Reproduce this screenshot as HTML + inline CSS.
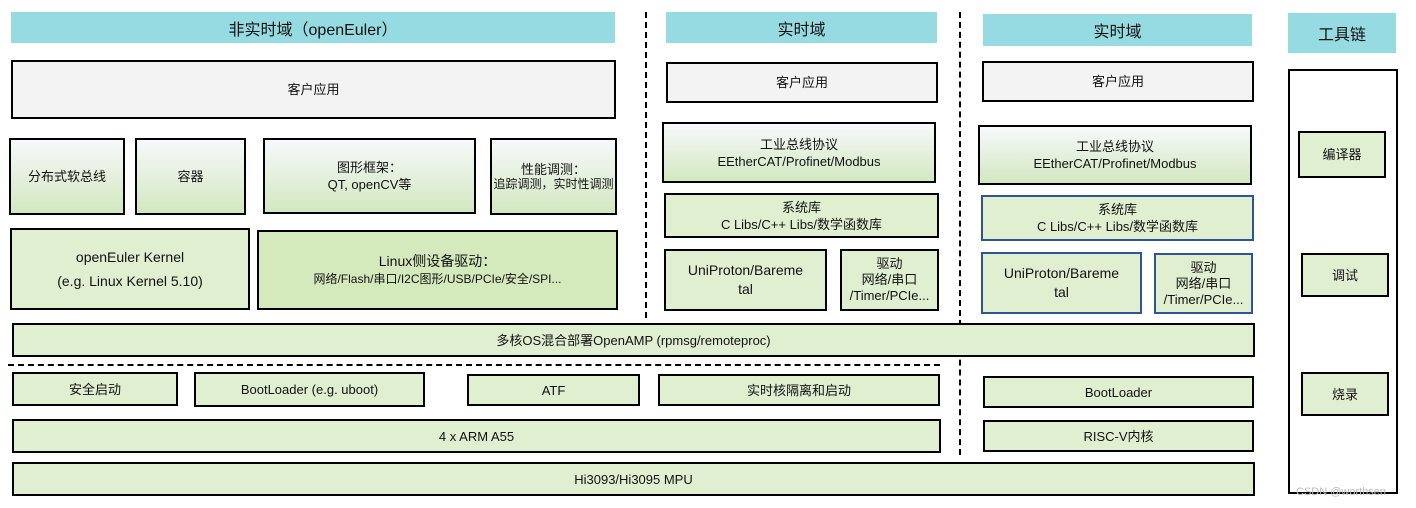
<!DOCTYPE html>
<html><head><meta charset="utf-8"><style>
body{margin:0;width:1416px;height:508px;background:#fff;position:relative;overflow:hidden;font-family:"Liberation Sans","Noto Sans CJK SC",sans-serif;color:#111}
.b{position:absolute;box-sizing:border-box;border:2px solid #000;display:flex;flex-direction:column;align-items:center;justify-content:center;text-align:center;font-size:13px;line-height:17px}
.h{position:absolute;background:#96dbe2;display:flex;align-items:center;justify-content:center;font-size:16px}
.w{background:#f3f3f3}
.g{background:linear-gradient(#f7f9fb,#d2e8c0)}
.l{background:#dfefd0}
.m{background:#d5eabc}
.bl{border-color:#2f5597}
.vd{position:absolute;width:0;border-left:2px dashed #000}
</style></head><body>
<div class="h" style="left:11px;top:12px;width:604px;height:31px">非实时域（openEuler）</div>
<div class="h" style="left:666px;top:12px;width:271px;height:31px">实时域</div>
<div class="h" style="left:983px;top:14px;width:269px;height:32px">实时域</div>
<div class="h" style="left:1288px;top:13px;width:108px;height:40px">工具链</div>

<div class="vd" style="left:645px;top:12px;height:306px"></div>
<div class="vd" style="left:959px;top:12px;height:443px"></div>
<div style="position:absolute;left:8px;top:364px;width:932px;border-top:2px dashed #000"></div>

<div class="b w" style="left:11px;top:60px;width:605px;height:59px">客户应用</div>
<div class="b w" style="left:666px;top:62px;width:272px;height:41px">客户应用</div>
<div class="b w" style="left:982px;top:61px;width:272px;height:41px">客户应用</div>

<div class="b g" style="left:9px;top:138px;width:116px;height:77px;padding:0 10px">分布式软总线</div>
<div class="b g" style="left:135px;top:138px;width:111px;height:77px">容器</div>
<div class="b g" style="left:263px;top:138px;width:213px;height:76px">图形框架：<br>QT, openCV等</div>
<div class="b g" style="left:490px;top:138px;width:127px;height:77px;font-size:12px;line-height:15px"><span style="font-size:13px">性能调测：</span>追踪调测，实时性调测</div>

<div class="b l" style="left:10px;top:228px;width:240px;height:82px;font-size:14px;line-height:24px">openEuler Kernel<br>(e.g. Linux Kernel 5.10)</div>
<div class="b m" style="left:257px;top:230px;width:361px;height:80px;font-size:14px;line-height:18px">Linux侧设备驱动：<br><span style="font-size:12px">网络/Flash/串口/I2C图形/USB/PCIe/安全/SPI...</span></div>

<div class="b g" style="left:662px;top:122px;width:274px;height:61px">工业总线协议<br>EEtherCAT/Profinet/Modbus</div>
<div class="b g" style="left:978px;top:125px;width:274px;height:60px">工业总线协议<br>EEtherCAT/Profinet/Modbus</div>
<div class="b l" style="left:664px;top:193px;width:275px;height:45px">系统库<br>C Libs/C++ Libs/数学函数库</div>
<div class="b l bl" style="left:981px;top:195px;width:273px;height:46px">系统库<br>C Libs/C++ Libs/数学函数库</div>
<div class="b l" style="left:664px;top:249px;width:163px;height:62px;font-size:14px;line-height:19px">UniProton/Bareme<br>tal</div>
<div class="b l" style="left:840px;top:249px;width:99px;height:62px;line-height:16px">驱动<br>网络/串口<br>/Timer/PCIe...</div>
<div class="b l bl" style="left:981px;top:252px;width:161px;height:62px;font-size:14px;line-height:19px">UniProton/Bareme<br>tal</div>
<div class="b l bl" style="left:1154px;top:253px;width:99px;height:61px;line-height:16px">驱动<br>网络/串口<br>/Timer/PCIe...</div>

<div class="b l" style="left:12px;top:323px;width:1243px;height:34px">多核OS混合部署OpenAMP (rpmsg/remoteproc)</div>
<div class="b l" style="left:12px;top:372px;width:166px;height:34px">安全启动</div>
<div class="b l" style="left:194px;top:372px;width:231px;height:35px">BootLoader (e.g. uboot)</div>
<div class="b l" style="left:467px;top:374px;width:173px;height:32px">ATF</div>
<div class="b l" style="left:658px;top:374px;width:282px;height:32px">实时核隔离和启动</div>
<div class="b l" style="left:983px;top:376px;width:271px;height:32px">BootLoader</div>
<div class="b l" style="left:12px;top:419px;width:929px;height:34px">4 x ARM A55</div>
<div class="b l" style="left:983px;top:420px;width:271px;height:32px">RISC-V内核</div>
<div class="b l" style="left:12px;top:462px;width:1243px;height:34px">Hi3093/Hi3095 MPU</div>

<div class="b" style="left:1288px;top:69px;width:110px;height:425px;background:#fff"></div>
<div class="b l" style="left:1298px;top:131px;width:88px;height:47px">编译器</div>
<div class="b l" style="left:1301px;top:253px;width:88px;height:44px">调试</div>
<div class="b l" style="left:1301px;top:372px;width:88px;height:44px">烧录</div>
<div style="position:absolute;left:1296px;top:486px;font-size:11px;color:#bbb">CSDN @worthsen</div>
</body></html>
